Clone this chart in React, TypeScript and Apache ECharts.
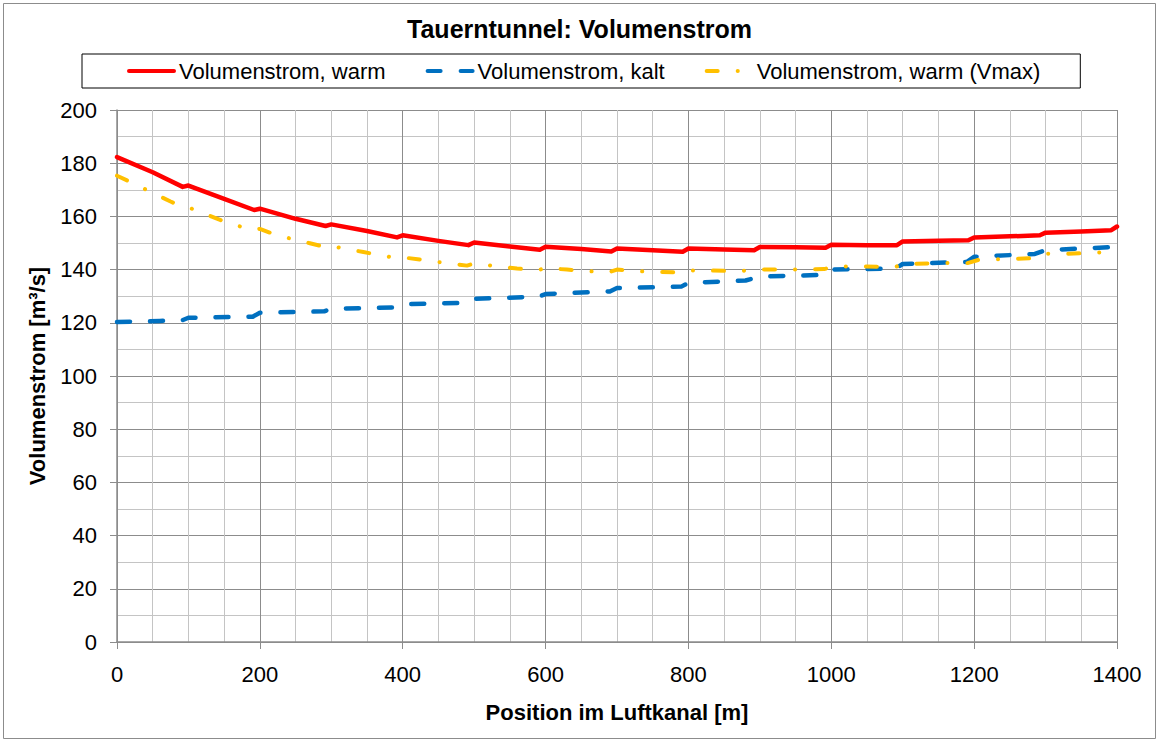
import React, { useEffect, useRef } from "react";
import * as echarts from "echarts";

const titleText = "Tauerntunnel: Volumenstrom";
const seriesNames = ["Volumenstrom, warm", "Volumenstrom, kalt", "Volumenstrom, warm (Vmax)"];
const xAxisName = "Position im Luftkanal [m]";
const yAxisName = "Volumenstrom [m³/s]";

const redX = [0, 50, 92, 100, 150, 192, 200, 250, 292, 300, 350, 392, 400, 450, 492, 500, 550, 592, 600, 650, 692, 700, 750, 792, 800, 850, 892, 900, 950, 992, 1000, 1050, 1092, 1100, 1150, 1192, 1200, 1250, 1292, 1300, 1350, 1392, 1400];
const redY = [182.3, 176.6, 171.1, 171.6, 166.6, 162.4, 162.9, 159.1, 156.4, 157.0, 154.5, 152.1, 152.9, 150.8, 149.2, 150.2, 148.7, 147.5, 148.6, 147.7, 146.8, 147.9, 147.3, 146.7, 147.9, 147.6, 147.3, 148.5, 148.4, 148.2, 149.3, 149.2, 149.2, 150.6, 150.8, 151.0, 152.1, 152.5, 152.9, 153.9, 154.3, 154.8, 156.2];

const blueX = [0, 60, 92, 100, 190, 200, 290, 300, 390, 400, 490, 500, 590, 600, 690, 700, 790, 800, 880, 900, 990, 1000, 1090, 1100, 1190, 1200, 1285, 1300, 1390, 1400];
const blueY = [120.3, 120.7, 121.0, 121.9, 122.3, 123.8, 124.3, 125.3, 125.8, 127.0, 127.5, 129.0, 129.8, 130.8, 131.8, 133.1, 133.6, 135.0, 135.9, 137.4, 138.0, 140.0, 140.4, 142.1, 142.9, 144.8, 145.9, 147.3, 148.4, 149.4];

const yellowX = [0, 25, 50, 75, 92, 100, 130, 150, 175, 192, 200, 220, 245, 270, 292, 300, 320, 345, 365, 390, 400, 435, 460, 490, 500, 530, 560, 590, 600, 630, 650, 690, 700, 720, 748, 790, 800, 822, 870, 895, 940, 990, 1005, 1040, 1090, 1100, 1160, 1190, 1208, 1254, 1285, 1300, 1326, 1355, 1390, 1400];
const yellowY = [175.3, 172.2, 168.8, 165.6, 163.6, 163.4, 160.2, 158.1, 156.0, 154.9, 155.3, 153.3, 151.5, 149.9, 148.5, 148.9, 147.8, 146.6, 145.6, 144.4, 144.6, 143.4, 142.5, 141.5, 142.3, 141.3, 140.4, 139.8, 140.6, 140.0, 139.5, 139.1, 140.0, 139.5, 139.2, 138.9, 139.7, 139.7, 139.4, 140.0, 140.0, 140.2, 141.2, 141.2, 141.0, 142.1, 142.5, 142.4, 143.8, 144.0, 144.3, 146.0, 145.9, 146.2, 146.6, 147.8];

const pair = (xs: number[], ys: number[]) => xs.map((x, i) => [x, ys[i]]);

const FONT = "'Liberation Sans', Arial, sans-serif";

export default function App() {
  const ref = useRef<HTMLDivElement>(null);
  useEffect(() => {
    if (!ref.current) return;
    const chart = echarts.init(ref.current, undefined, { renderer: "svg" });
    const majorColor = "#8c8c8c";
    const minorColor = "#c4c4c4";
    chart.setOption({
      animation: false,
      backgroundColor: "#ffffff",
      textStyle: { fontFamily: FONT, color: "#000" },
      title: {
        text: titleText,
        left: "center",
        top: 11,
        textStyle: { fontFamily: FONT, fontSize: 25, fontWeight: "bold", color: "#000" },
      },
      legend: {
        left: 82,
        top: 54,
        padding: [6, 40, 6, 45],
        itemGap: 40,
        itemWidth: 45,
        itemHeight: 14,
        borderColor: "#000",
        borderWidth: 1,
        backgroundColor: "#fff",
        textStyle: { fontFamily: FONT, fontSize: 22, color: "#000" },
        itemStyle: { opacity: 0 },
        lineStyle: { width: 4 },
        data: seriesNames,
      },
      graphic: [
        {
          type: "rect",
          shape: { x: 3.5, y: 3.5, width: 1152, height: 735 },
          style: { fill: "none", stroke: "#8c8c8c", lineWidth: 1 },
          silent: true,
        },
      ],
      grid: { left: 117, right: 42, top: 110, bottom: 100, containLabel: false },
      xAxis: {
        type: "value",
        min: 0,
        max: 1400,
        interval: 200,
        name: xAxisName,
        nameLocation: "middle",
        nameGap: 59,
        nameTextStyle: { fontFamily: FONT, fontSize: 22, fontWeight: "bold", color: "#000" },
        axisLine: { show: true, onZero: false, lineStyle: { color: majorColor, width: 1.5 } },
        axisTick: { show: true, length: 7, lineStyle: { color: majorColor } },
        axisLabel: { fontFamily: FONT, fontSize: 22, color: "#000", margin: 21, formatter: (v: number) => String(v) },
        splitLine: { show: true, lineStyle: { color: majorColor, width: 1 } },
        minorTick: { show: false, splitNumber: 4 },
        minorSplitLine: { show: true, lineStyle: { color: minorColor, width: 1 } },
      },
      yAxis: {
        type: "value",
        min: 0,
        max: 200,
        interval: 20,
        name: yAxisName,
        nameLocation: "middle",
        nameGap: 69,
        nameTextStyle: { fontFamily: FONT, fontSize: 22, fontWeight: "bold", color: "#000" },
        axisLine: { show: true, lineStyle: { color: majorColor, width: 1.5 } },
        axisTick: { show: true, length: 7, lineStyle: { color: majorColor } },
        axisLabel: { fontFamily: FONT, fontSize: 22, color: "#000", margin: 20, formatter: (v: number) => String(v) },
        splitLine: { show: true, lineStyle: { color: majorColor, width: 1 } },
        minorTick: { show: false, splitNumber: 2 },
        minorSplitLine: { show: true, lineStyle: { color: minorColor, width: 1 } },
      },
      series: [
        {
          name: seriesNames[0],
          type: "line",
          data: pair(redX, redY),
          symbol: "none",
          lineStyle: { color: "#ff0000", width: 4.5, cap: "round", join: "round" },
          itemStyle: { color: "#ff0000" },
        },
        {
          name: seriesNames[1],
          type: "line",
          data: pair(blueX, blueY),
          symbol: "none",
          lineStyle: { color: "#0070c0", width: 4.5, type: [13, 20], cap: "round", join: "round" },
          itemStyle: { color: "#0070c0" },
        },
        {
          name: seriesNames[2],
          type: "line",
          data: pair(yellowX, yellowY),
          symbol: "none",
          lineStyle: { color: "#ffc000", width: 4, type: [11, 20, 0.1, 20], cap: "round", join: "round" },
          itemStyle: { color: "#ffc000" },
        },
      ],
    });
    return () => chart.dispose();
  }, []);
  return (
    <div
      ref={ref}
      style={{ position: "absolute", left: 0, top: 0, width: 1159, height: 742, background: "#fff" }}
    />
  );
}
